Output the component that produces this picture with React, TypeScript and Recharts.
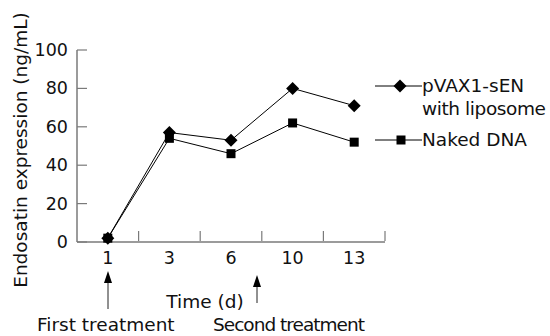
import React from "react";
import { LineChart, Line, XAxis, YAxis } from "recharts";

document.body.style.margin = "0";

const days = ["1", "3", "6", "10", "13"];
const pvaxLiposome = [2, 57, 53, 80, 71];
const nakedDna = [2, 54, 46, 62, 52];
const yTicks = [0, 20, 40, 60, 80, 100];
const xTicks = [-0.5, 0, 0.5, 1, 1.5, 2, 2.5, 3, 3.5, 4, 4.5];

const FONT = "'DejaVu Sans', sans-serif";
const AXIS = "#7a7a7a";
const FS = 18.5;
const TFS = 17.5;

const data = days.map((d, i) => ({ idx: i, day: d, pvax: pvaxLiposome[i], naked: nakedDna[i] }));

const Diamond = (props: any) => {
  const { cx, cy, key } = props;
  const r = 6.5;
  return <path key={key} d={`M${cx},${cy - r}L${cx + r},${cy}L${cx},${cy + r}L${cx - r},${cy}Z`} fill="#000" />;
};

const Square = (props: any) => {
  const { cx, cy, key } = props;
  return <rect key={key} x={cx - 4.5} y={cy - 4.5} width={9} height={9} fill="#000" />;
};

const XTick = (props: any) => {
  const { x, y, payload } = props;
  const v = payload.value;
  if (v === -0.5) return null;
  if (Number.isInteger(v)) {
    return (
      <text x={x} y={y + 14} textAnchor="middle" fontSize={TFS} fontFamily={FONT} fill="#111">
        {days[v]}
      </text>
    );
  }
  return <line x1={x} x2={x} y1={y - 9} y2={y - 19} stroke={AXIS} strokeWidth={1.2} />;
};

const YTick = (props: any) => {
  const { x, y, payload } = props;
  return (
    <g>
      <line x1={x + 8} x2={x + 18} y1={y} y2={y} stroke={AXIS} strokeWidth={1.2} />
      <text x={x - 1} y={y + 6} textAnchor="end" fontSize={TFS} fontFamily={FONT} fill="#111">
        {payload.value}
      </text>
    </g>
  );
};

const Arrow = ({ x, top, bottom }: { x: number; top: number; bottom: number }) => (
  <g>
    <line x1={x} x2={x} y1={top + 8} y2={bottom} stroke="#222" strokeWidth={1} />
    <path d={`M${x},${top}L${x + 4},${top + 12}L${x - 4},${top + 12}Z`} fill="#000" />
  </g>
);

export default function App() {
  return (
    <div style={{ position: "relative", width: 550, height: 336, background: "#fff", fontFamily: FONT }}>
      <LineChart width={550} height={336} data={data} margin={{ top: 50, right: 165, bottom: 64, left: 0 }}>
        <XAxis
          dataKey="idx"
          type="number"
          domain={[-0.5, 4.5]}
          ticks={xTicks}
          interval={0}
          height={30}
          tick={<XTick />}
          tickLine={false}
          axisLine={{ stroke: AXIS, strokeWidth: 1.5 }}
        />
        <YAxis
          domain={[0, 100]}
          ticks={yTicks}
          width={77}
          interval={0}
          tick={<YTick />}
          tickLine={false}
          axisLine={{ stroke: AXIS, strokeWidth: 1.5 }}
        />
        <Line dataKey="pvax" stroke="#000" strokeWidth={1} dot={Diamond} isAnimationActive={false} />
        <Line dataKey="naked" stroke="#000" strokeWidth={1} dot={Square} isAnimationActive={false} />
      </LineChart>
      <svg width={550} height={336} style={{ position: "absolute", left: 0, top: 0, pointerEvents: "none" }}>
        <text x={27} y={150} transform="rotate(-90 27 150)" textAnchor="middle" fontSize={FS} fontFamily={FONT} fill="#111">
          Endosatin expression (ng/mL)
        </text>
        <line x1={375} x2={422} y1={86} y2={86} stroke="#000" strokeWidth={1} />
        <Diamond cx={400} cy={86} />
        <text x={422} y={92} fontSize={FS} fontFamily={FONT} fill="#111">pVAX1-sEN</text>
        <text x={422} y={115} fontSize={FS} fontFamily={FONT} fill="#111" textLength={124}>with liposome</text>
        <line x1={375} x2={422} y1={140} y2={140} stroke="#000" strokeWidth={1} />
        <Square cx={401} cy={140} />
        <text x={422} y={146} fontSize={FS} fontFamily={FONT} fill="#111">Naked DNA</text>
        <Arrow x={108} top={271} bottom={309} />
        <Arrow x={257} top={275} bottom={303} />
        <text x={205} y={308} textAnchor="middle" fontSize={FS} fontFamily={FONT} fill="#111">Time (d)</text>
        <text x={37} y={331} fontSize={FS} fontFamily={FONT} fill="#111">First treatment</text>
        <text x={213} y={331} fontSize={FS} fontFamily={FONT} fill="#111" textLength={152}>Second treatment</text>
      </svg>
    </div>
  );
}
